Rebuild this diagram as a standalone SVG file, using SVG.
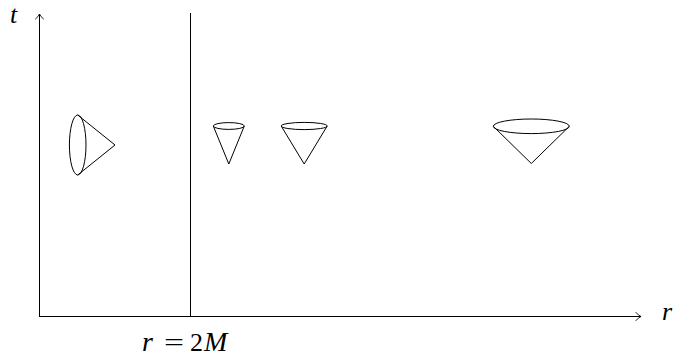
<svg xmlns="http://www.w3.org/2000/svg" width="676" height="360" viewBox="0 0 676 360">
<style>
.ln{fill:none;stroke:#000;stroke-width:1}
.ah{fill:none;stroke:#000;stroke-width:0.9;stroke-linecap:round}
.tx{font-family:"Liberation Serif","DejaVu Serif",serif;font-size:26px;fill:#000}
.it{font-style:italic}
</style>
<rect width="676" height="360" fill="#fff"/>
<g id="connectors">
<line class="ln" x1="39.5" y1="317" x2="39.5" y2="14"/>
<path class="ah" d="M35.5,19 Q38.5,16.5 39.5,14 Q40.5,16.5 43.5,19"/>
<line class="ln" x1="39" y1="316.5" x2="641" y2="316.5"/>
<path class="ah" d="M636,312.5 Q638.5,315.5 641,316.5 Q638.5,317.5 636,320.5"/>
<line class="ln" x1="190.5" y1="13" x2="190.5" y2="316.5" stroke="#333"/>
</g>
<g id="cone1">
<ellipse class="ln" cx="77.7" cy="145" rx="8.3" ry="30"/>
<path class="ln" d="M77.7,115 L115,145 L77.7,175"/>
</g>
<g id="cone2">
<ellipse class="ln" cx="228.8" cy="126" rx="15.5" ry="3.4"/>
<path class="ln" d="M213.3,126 L228.8,164 L244.3,126"/>
</g>
<g id="cone3">
<ellipse class="ln" cx="304.2" cy="126" rx="23" ry="3.6"/>
<path class="ln" d="M281.2,126 L304.2,164 L327.2,126"/>
</g>
<g id="cone4">
<ellipse class="ln" cx="531.3" cy="126.3" rx="38" ry="7.3"/>
<path class="ln" d="M493.3,126.3 L531.3,163.5 L569.3,126.3"/>
</g>
<g id="labels">
<text class="tx it" x="10" y="22.5">t</text>
<text class="tx it" x="662" y="320">r</text>
<text class="tx it" x="142" y="351" style="font-size:28px">r</text>
<text class="tx" x="164" y="351" textLength="20" lengthAdjust="spacingAndGlyphs">=</text>
<text class="tx" x="190" y="351">2</text>
<text class="tx it" x="204" y="351" style="font-size:28px">M</text>
</g>
</svg>
